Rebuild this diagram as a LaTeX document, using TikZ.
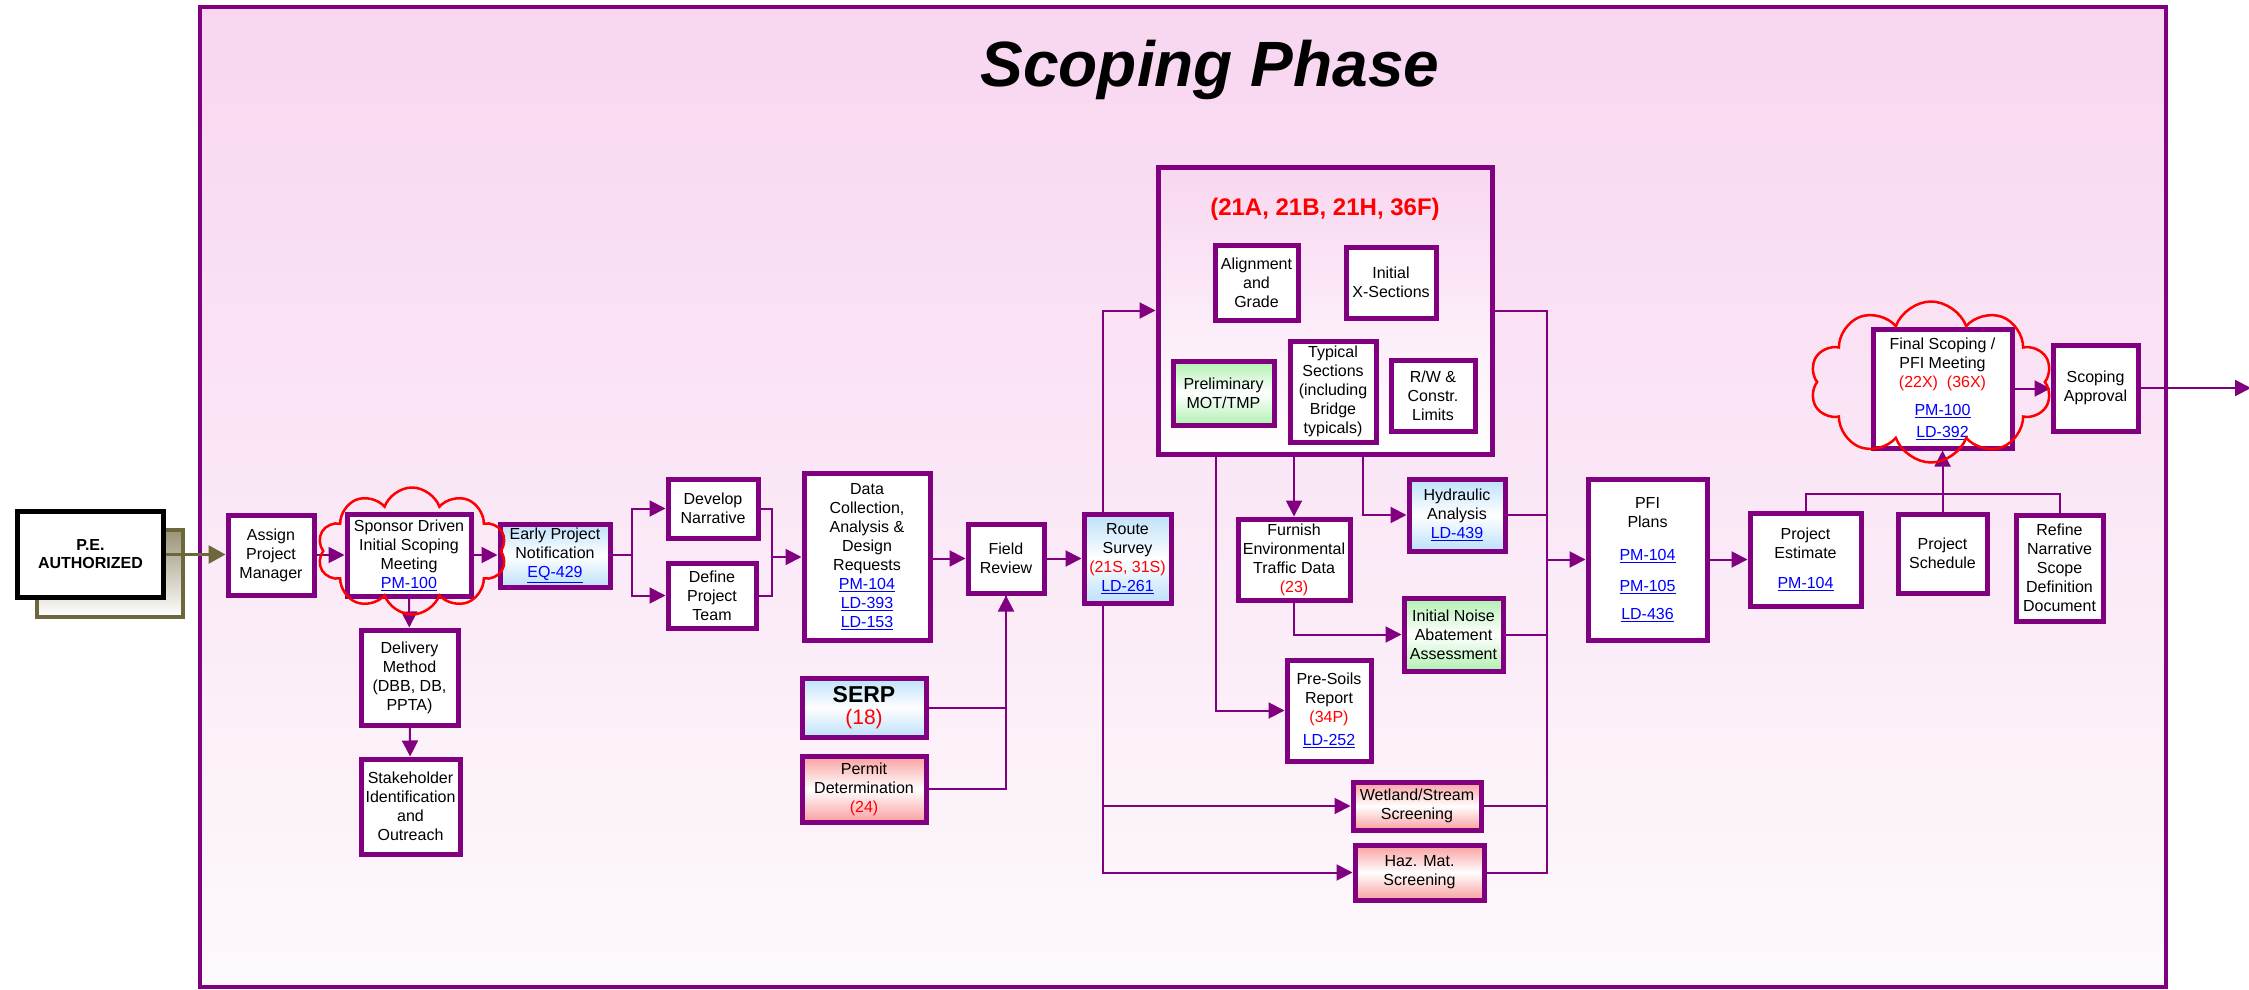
\documentclass[tikz,border=0pt]{standalone}
\usepackage{fontspec}
\setmainfont{Liberation Sans}
\usetikzlibrary{arrows.meta,shapes.symbols}
\definecolor{scopepurple}{RGB}{128,0,128}
\definecolor{scopepink}{RGB}{248,214,240}
\definecolor{scopelight}{RGB}{253,249,252}
\definecolor{linkblue}{RGB}{0,0,255}
\definecolor{notered}{RGB}{255,0,0}
\definecolor{peolive}{RGB}{110,102,60}
\definecolor{boxblue}{RGB}{188,224,250}
\definecolor{boxred}{RGB}{250,158,158}
\definecolor{boxgreen}{RGB}{176,240,176}
\newcommand{\linktxt}[1]{\textcolor{linkblue}{\underline{#1}}}
\newcommand{\redtxt}[1]{\textcolor{notered}{#1}}
\tikzset{
    stepbox/.style={draw=scopepurple, line width=5pt, fill=white, align=center, inner sep=1pt,
        font=\fontsize{16}{19}\selectfont},
    bluebox/.style={stepbox, top color=boxblue, bottom color=boxblue, middle color=white},
    redbox/.style={stepbox, top color=boxred, bottom color=boxred, middle color=white},
    greenbox/.style={stepbox, top color=boxgreen, bottom color=boxgreen, middle color=white},
    flow/.style={draw=scopepurple, line width=2pt},
    flowarrow/.style={flow, -{Triangle[length=16pt,width=16pt]}},
    peflow/.style={draw=peolive, line width=3pt, -{Triangle[length=17pt,width=18pt]}},
    meetcloud/.style={cloud, cloud puffs=10, cloud puff arc=140, draw=red, line width=2.5pt, cloud ignores aspect}
}
\begin{document}
\begin{tikzpicture}[x=1pt,y=-1pt]
    \useasboundingbox (0,0) rectangle (2249,990);

    \draw[draw=scopepurple, line width=4pt, top color=scopepink, bottom color=scopelight] (200,7) rectangle (2166,987);
    \node[font=\fontsize{64}{70}\selectfont\bfseries\itshape, anchor=base] (title) at (1210,86) {Scoping Phase};

    \node[draw=peolive, line width=4pt, top color=peolive!70, bottom color=white, minimum width=146pt, minimum height=87pt] (peshadow) at (110,573.5) {};
    \node[draw=black, line width=5pt, fill=white, minimum width=146pt, minimum height=86pt, align=center,
        font=\fontsize{16}{18}\selectfont\bfseries] (pe) at (90.5,554.5) {P.E.\\AUTHORIZED};

    \node[stepbox, minimum width=86pt, minimum height=80pt] (assign) at (271,555) {Assign\\Project\\Manager};
    \node[stepbox, minimum width=124pt, minimum height=82pt] (sponsor) at (409,555) {Sponsor Driven\\Initial Scoping\\Meeting\\\linktxt{PM-100}};
    \node[bluebox, minimum width=110pt, minimum height=63pt] (notify) at (555,555.5) {Early Project\\Notification\\\linktxt{EQ-429}};
    \node[stepbox, minimum width=97pt, minimum height=95pt] (delivery) at (409.5,677.5) {Delivery\\Method\\(DBB, DB,\\PPTA)};
    \node[stepbox, minimum width=99pt, minimum height=95pt] (stakeholder) at (410.5,806.5) {Stakeholder\\Identification\\and\\Outreach};

    \node[stepbox, minimum width=90pt, minimum height=59pt] (narrative) at (713,508.5) {Develop\\Narrative};
    \node[stepbox, minimum width=88pt, minimum height=65pt] (team) at (712,595.5) {Define\\Project\\Team};
    \node[stepbox, minimum width=126pt, minimum height=167pt] (datareq) at (867,556.5) {Data\\Collection,\\Analysis \&\\Design\\Requests\\\linktxt{PM-104}\\\linktxt{LD-393}\\\linktxt{LD-153}};
    \node[stepbox, minimum width=76pt, minimum height=69pt] (field) at (1006,558.5) {Field\\Review};
    \node[bluebox, minimum width=124pt, minimum height=59pt] (serp) at (864,707.5) {{\fontsize{23}{27}\selectfont\bfseries SERP}\\[3pt]{\fontsize{21}{25}\selectfont\redtxt{(18)}}};
    \node[redbox, minimum width=124pt, minimum height=66pt] (permit) at (864,789) {Permit\\Determination\\\redtxt{(24)}};
    \node[bluebox, minimum width=87pt, minimum height=89pt] (survey) at (1127.5,558.5) {Route\\Survey\\\redtxt{(21S, 31S)}\\\linktxt{LD-261}};

    \node[draw=scopepurple, line width=5pt, top color=scopepink, bottom color=white, minimum width=334pt, minimum height=287pt] (design) at (1325,310.5) {};
    \node[text=notered, font=\fontsize{24}{28}\selectfont\bfseries] (designcodes) at (1325,209) {(21A, 21B, 21H, 36F)};
    \node[stepbox, minimum width=83pt, minimum height=75pt] (grade) at (1256.5,282.5) {Alignment\\and\\Grade};
    \node[stepbox, minimum width=90pt, minimum height=71pt] (xsections) at (1391,282.5) {Initial\\X-Sections};
    \node[greenbox, minimum width=101pt, minimum height=64pt] (mot) at (1223.5,393) {Preliminary\\MOT/TMP};
    \node[stepbox, minimum width=86pt, minimum height=101pt] (typicals) at (1333,391.5) {Typical\\Sections\\(including\\Bridge\\typicals)};
    \node[stepbox, minimum width=84pt, minimum height=71pt] (limits) at (1433,395.5) {R/W \&\\Constr.\\Limits};

    \node[stepbox, minimum width=112pt, minimum height=81pt] (traffic) at (1294,559.5) {Furnish\\Environmental\\Traffic Data\\\redtxt{(23)}};
    \node[bluebox, minimum width=96pt, minimum height=72pt] (hydraulic) at (1457,515) {Hydraulic\\Analysis\\\linktxt{LD-439}};
    \node[greenbox, minimum width=99pt, minimum height=73pt] (noise) at (1453.5,634.5) {Initial Noise\\Abatement\\Assessment};
    \node[stepbox, minimum width=84pt, minimum height=101pt] (presoils) at (1329,710.5) {Pre-Soils\\Report\\\redtxt{(34P)}\\[4pt]\linktxt{LD-252}};
    \node[redbox, minimum width=128pt, minimum height=48pt] (wetland) at (1417,806) {Wetland/Stream\\Screening};
    \node[redbox, minimum width=129pt, minimum height=55pt] (hazmat) at (1419.5,872.5) {Haz. Mat.\\Screening};

    \node[stepbox, minimum width=119pt, minimum height=161pt] (pfi) at (1647.5,559.5) {PFI\\Plans\\[14pt]\linktxt{PM-104}\\[12pt]\linktxt{PM-105}\\[9pt]\linktxt{LD-436}};
    \node[stepbox, minimum width=111pt, minimum height=93pt] (estimate) at (1805.5,559.5) {Project\\Estimate\\[11pt]\linktxt{PM-104}};
    \node[stepbox, minimum width=89pt, minimum height=79pt] (schedule) at (1942.5,553.5) {Project\\Schedule};
    \node[stepbox, minimum width=87pt, minimum height=106pt] (refine) at (2059.5,568) {Refine\\Narrative\\Scope\\Definition\\Document};
    \node[stepbox, minimum width=139pt, minimum height=119pt] (finalmeet) at (1942.5,388.5) {Final Scoping /\\PFI Meeting\\\redtxt{(22X)\ \ (36X)}\\[9pt]\linktxt{PM-100}\\[3pt]\linktxt{LD-392}};
    \node[stepbox, minimum width=85pt, minimum height=86pt] (approval) at (2095.5,388) {Scoping\\Approval};

    \draw[peflow] (pe.east) -- (pe.east -| assign.west);
    \draw[flowarrow] (assign) -- (sponsor);
    \draw[flowarrow] (sponsor.east) -- (sponsor.east -| notify.west);
    \draw[flowarrow] (sponsor) -- (delivery);
    \draw[flowarrow] (delivery) -- (stakeholder);

    \coordinate (split) at (632,555);
    \draw[flow] (notify.east |- split) -- (split);
    \draw[flowarrow] (split) |- (narrative.west);
    \draw[flowarrow] (split) |- (team.west);
    \coordinate (merge) at (772,557);
    \draw[flow] (narrative.east) -| (merge);
    \draw[flow] (team.east) -| (merge);
    \draw[flowarrow] (merge) -- (merge -| datareq.west);
    \draw[flowarrow] (field.west -| datareq.east) -- (field.west);
    \draw[flowarrow] (field) -- (survey);
    \draw[flow] (serp.east) -| (field.south);
    \draw[flowarrow] (permit.east) -| (field.south);

    \draw[flowarrow] ([xshift=-24.5pt]survey.north) |- (design.west);
    \draw[flowarrow] ([xshift=-24.5pt]survey.south) |- (wetland.west);
    \draw[flowarrow] ([xshift=-24.5pt]survey.south) |- (hazmat.west);
    \draw[flowarrow] ([xshift=-109pt]design.south) |- (presoils.west);
    \draw[flowarrow] (design.south -| traffic.north) -- (traffic.north);
    \draw[flowarrow] ([xshift=38pt]design.south) |- (hydraulic.west);
    \draw[flowarrow] (traffic.south) |- (noise.west);

    \coordinate (collect) at (1547,559.5);
    \draw[flow] (design.east) -| (collect);
    \draw[flow] (hydraulic.east) -| (collect);
    \draw[flow] (noise.east) -| (collect);
    \draw[flow] (wetland.east) -| (collect);
    \draw[flow] (hazmat.east) -| (collect);
    \draw[flowarrow] (collect) -- (pfi.west);
    \draw[flowarrow] (pfi) -- (estimate);

    \coordinate (gather) at (1942.5,494);
    \draw[flow] (estimate.north) |- (gather) -| (refine.north);
    \draw[flowarrow] (schedule.north) -- (finalmeet.south);
    \draw[flowarrow] (finalmeet.east) -- (finalmeet.east -| approval.west);
    \coordinate (exitpt) at (2251,388);
    \draw[flowarrow] (approval.east) -- (exitpt);

    \node[meetcloud, minimum width=189pt, minimum height=127pt] (sponsorcloud) at (412,551) {};
    \node[meetcloud, minimum width=242pt, minimum height=161pt] (finalcloud) at (1931,382) {};
\end{tikzpicture}
\end{document}
